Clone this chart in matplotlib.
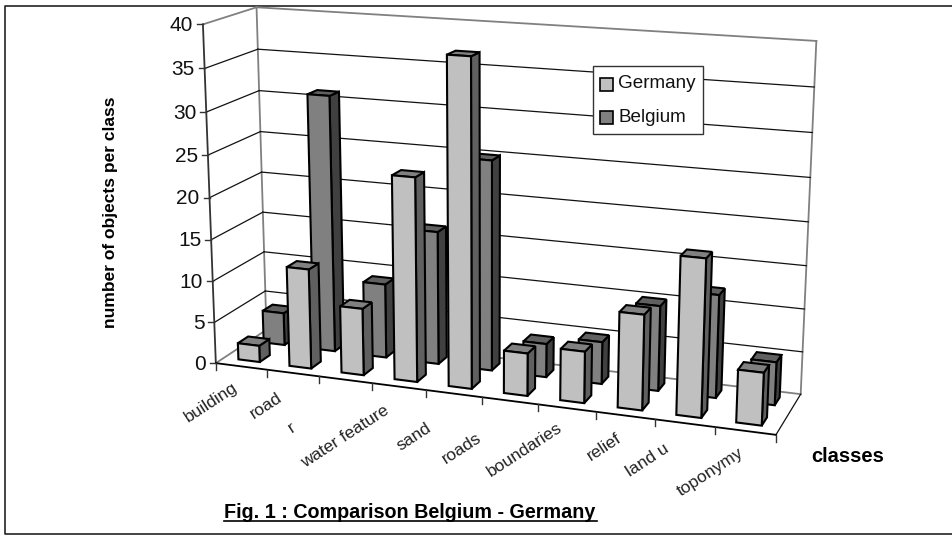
"""
Bar chart in fake 3D (spreadsheet style), number of objects per class.
Projection is a plain homography fitted on the chart frame.
"""

import numpy as np
import matplotlib
matplotlib.use("Agg")
import matplotlib.pyplot as plt
from matplotlib.patches import Polygon, Rectangle

plt.rcParams["font.family"] = ["Liberation Sans", "DejaVu Sans"]

# ── Data ──────────────────────────────────────────────────────────────────────
classes = ["building", "road", "r", "water feature", "sand", "roads",
           "boundaries", "relief", "land u", "toponymy"]
germany = [2, 12, 8, 24, 38, 5, 6, 11, 18, 6]
belgium = [4, 31, 9, 16, 25, 4, 5, 10, 12, 5]
y_ticks = [0, 5, 10, 15, 20, 25, 30, 35, 40]

# ── Layout (pixels) ───────────────────────────────────────────────────────────
# (u along classes, v depth, z value) -> pixel position of the frame
_FRAME = [
    (0, 0, 0, 216, 362), (0, 0, 40, 202, 25),
    (0, 1, 0, 266, 332), (0, 1, 40, 257, 7),
    (1, 1, 0, 801, 393), (1, 1, 40, 817, 41),
    (1, 0, 0, 776, 435),
    (0.1, 0, 0, 267, 369), (0.2, 0, 0, 319, 376), (0.3, 0, 0, 372, 383),
    (0.4, 0, 0, 427, 390), (0.5, 0, 0, 482, 397), (0.6, 0, 0, 537, 405),
    (0.7, 0, 0, 596, 412), (0.8, 0, 0, 655, 420), (0.9, 0, 0, 715, 427),
    (0, 0, 20, 210, 198), (0, 1, 20, 262, 171), (1, 1, 20, 807, 222),
]
_LABEL_XY = [(211, 402), (266, 406), (292, 428), (345, 437), (414, 437),
             (462, 448), (525, 450), (604, 447), (648, 460), (710, 472)]

_BAR_U = (0.28, 0.70)
_ROW_V = {"germany": (0.16, 0.36), "belgium": (0.66, 0.86)}

_C_GER = ("#C0C0C0", "#606060", "#808080")  # front, side, top
_C_BEL = ("#808080", "#404040", "#606060")
_C_WALL = "#808080"
_C_DARK = "#111111"


def _fit_projection(frame):
    rows, rhs = [], []
    for u, v, z, px, py in frame:
        z = z / 40.0
        rows.append([u, v, z, 1, 0, 0, 0, 0, -u * px, -v * px, -z * px])
        rows.append([0, 0, 0, 0, u, v, z, 1, -u * py, -v * py, -z * py])
        rhs += [px, py]
    sol = np.linalg.lstsq(np.array(rows, float), np.array(rhs, float), rcond=None)[0]
    return np.append(sol, 1.0).reshape(3, 4)


_P = _fit_projection(_FRAME)


def proj(u, v, z):
    p = _P @ np.array([u, v, z / 40.0, 1.0])
    return p[0] / p[2], p[1] / p[2]


def _line(ax, a, b, color=_C_DARK, lw=1.0, zorder=2):
    ax.plot([a[0], b[0]], [a[1], b[1]], color=color, lw=lw, zorder=zorder,
            solid_capstyle="projecting")


def _bar(ax, i, value, row, colors, zorder):
    u0 = (i + _BAR_U[0]) / len(classes)
    u1 = (i + _BAR_U[1]) / len(classes)
    v0, v1 = _ROW_V[row]
    faces = [
        ([(u1, v0, 0), (u1, v1, 0), (u1, v1, value), (u1, v0, value)], colors[1]),
        ([(u0, v0, value), (u1, v0, value), (u1, v1, value), (u0, v1, value)], colors[2]),
        ([(u0, v0, 0), (u1, v0, 0), (u1, v0, value), (u0, v0, value)], colors[0]),
    ]
    for pts, col in faces:
        ax.add_patch(Polygon([proj(*q) for q in pts], closed=True, facecolor=col,
                             edgecolor="black", linewidth=1.5, joinstyle="miter",
                             zorder=zorder))


fig = plt.figure(figsize=(9.52, 5.35), dpi=100)
ax = fig.add_axes([0, 0, 1, 1])
ax.set_xlim(0, 952)
ax.set_ylim(535, 0)
ax.axis("off")

# Outer frame: no right edge in the reference
ax.plot([952, 5, 5, 952], [6, 6, 534, 534], color="#222222", lw=1.2, zorder=1)

# Walls, floor and grid
_line(ax, proj(0, 0, 40), proj(0, 1, 40), _C_WALL, 1.3)
_line(ax, proj(0, 1, 40), proj(1, 1, 40), _C_WALL, 1.3)
_line(ax, proj(0, 1, 0), proj(0, 1, 40), _C_WALL, 1.3)
_line(ax, proj(1, 1, 0), proj(1, 1, 40), _C_WALL, 1.3)
_line(ax, proj(0, 0, 0), proj(0, 1, 0), _C_WALL, 1.3)
_line(ax, proj(0, 1, 0), proj(1, 1, 0), _C_WALL, 1.3)
_line(ax, proj(1, 0, 0), proj(1, 1, 0), _C_DARK, 0.9)
for t in y_ticks[1:-1]:
    _line(ax, proj(0, 0, t), proj(0, 1, t), _C_DARK, 0.9)
    _line(ax, proj(0, 1, t), proj(1, 1, t), _C_DARK, 0.9)

# Bars, back row first
for i, val in enumerate(belgium):
    _bar(ax, i, val, "belgium", _C_BEL, 3)
for i, val in enumerate(germany):
    _bar(ax, i, val, "germany", _C_GER, 4)

# Axes and ticks
_line(ax, proj(0, 0, 0), proj(0, 0, 40), "#333333", 1.3, 5)
_line(ax, proj(0, 0, 0), proj(1, 0, 0), "black", 1.3, 5)
for t in y_ticks:
    x, y = proj(0, 0, t)
    ax.plot([x - 6, x], [y, y], color="#333333", lw=1.0, zorder=5)
    ax.text(x - 10, y + 1, str(t), ha="right", va="center", fontsize=15,
            color="#111111")
for i in range(len(classes) + 1):
    x, y = proj(i / len(classes), 0, 0)
    ax.plot([x, x], [y, y + 7], color="#333333", lw=1.0, zorder=5)

# Class labels
for name, (lx, ly) in zip(classes, _LABEL_XY):
    ax.text(lx, ly, name, rotation=33, ha="center", va="center",
            rotation_mode="anchor", fontsize=12.5, color="#222222")

# Axis titles and caption
ax.text(111, 212, "number of objects per class", rotation=90, ha="center",
        va="center", fontsize=12.5, fontweight="bold", color="black")
ax.text(848, 456, "classes", ha="center", va="center", fontsize=14.5,
        fontweight="bold", color="black")
ax.text(224, 513, "Fig. 1 : Comparison Belgium - Germany", ha="left", va="center",
        fontsize=14.2, fontweight="bold", color="black")
ax.plot([224, 597], [521, 521], color="black", lw=1.2)

# Legend
ax.add_patch(Rectangle((593, 66), 110, 68, facecolor="white", edgecolor="#333333",
                       linewidth=1.0, zorder=6))
for (sy, name, cols) in [(78, "Germany", _C_GER), (111, "Belgium", _C_BEL)]:
    ax.add_patch(Rectangle((600, sy), 13, 13, facecolor=cols[0], edgecolor="black",
                           linewidth=1.2, zorder=7))
    ax.text(618, sy + 6, name, ha="left", va="center", fontsize=13.6,
            color="#111111", zorder=7)

fig.savefig("out.png", dpi=100)
plt.close(fig)
